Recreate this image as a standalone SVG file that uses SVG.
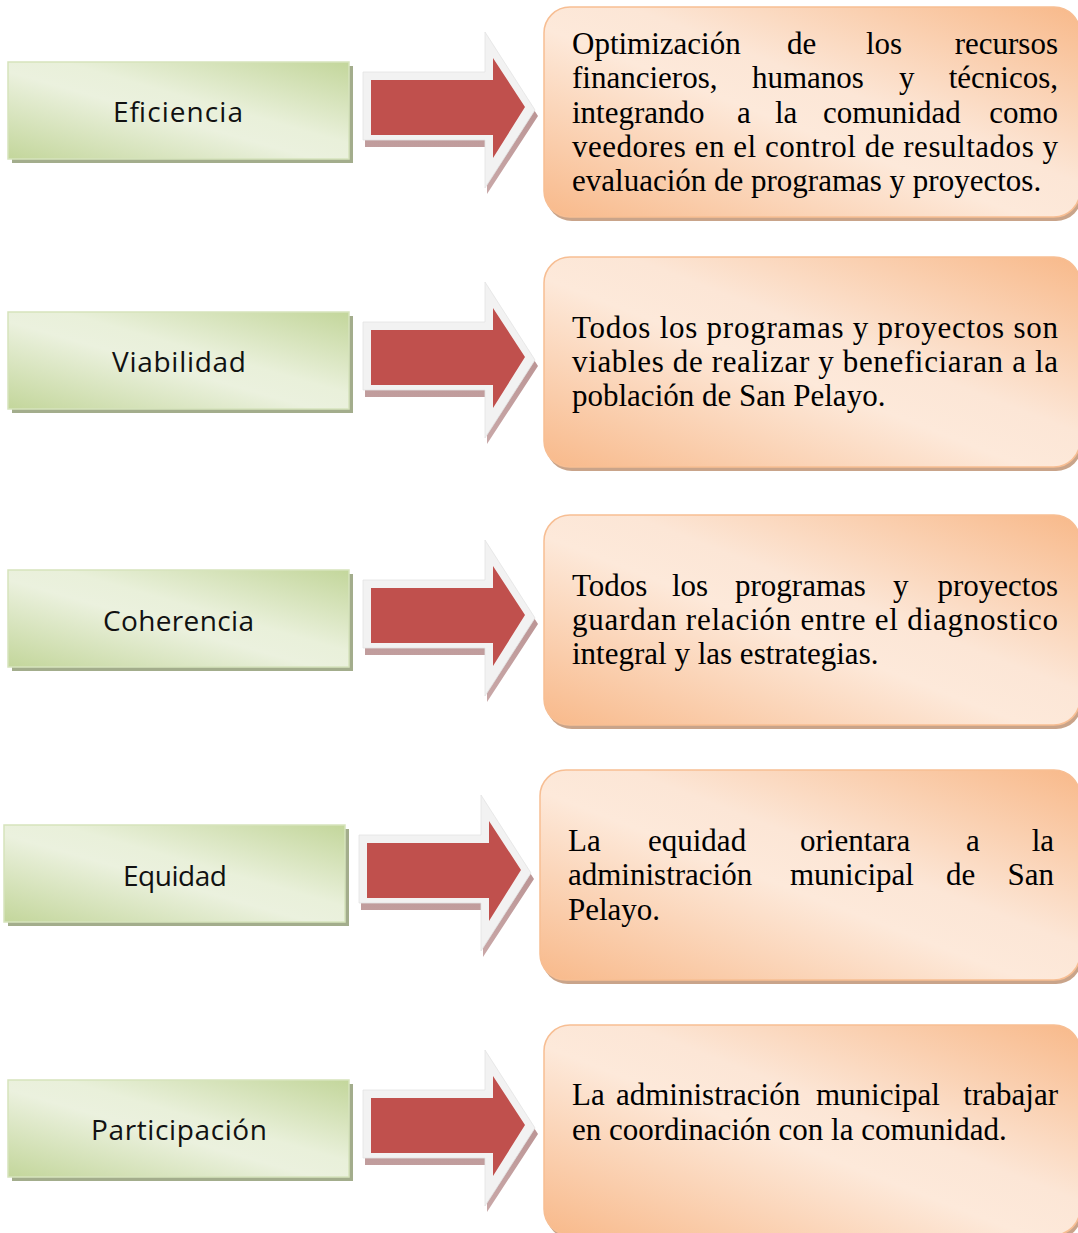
<svg xmlns="http://www.w3.org/2000/svg" width="1078" height="1233" viewBox="0 0 1078 1233">
<defs>
<linearGradient id="gGreen" x1="0" y1="1" x2="1" y2="0">
<stop offset="0" stop-color="#c3d69b"/>
<stop offset="0.45" stop-color="#ebf1de"/>
<stop offset="0.58" stop-color="#e9f0da"/>
<stop offset="1" stop-color="#c3d69b"/>
</linearGradient>
<linearGradient id="gOrange" x1="0" y1="1" x2="1" y2="0">
<stop offset="0" stop-color="#f8b98a"/>
<stop offset="0.45" stop-color="#fde9da"/>
<stop offset="0.58" stop-color="#fce6d6"/>
<stop offset="1" stop-color="#f8b98a"/>
</linearGradient>
<linearGradient id="gShadow" x1="0" y1="0" x2="0" y2="1">
<stop offset="0" stop-color="#b08585"/>
<stop offset="1" stop-color="#c9a8a8"/>
</linearGradient>
</defs>
<style>
.gshadow{fill:#a3ad8c}
.gbox{fill:url(#gGreen);stroke:#d6e3bc;stroke-width:1.5}
.glabel{font-family:"Open Sans","DejaVu Sans",sans-serif;font-size:28px;fill:#111}
.oshadow{fill:#c9a48a}
.obox{fill:url(#gOrange);stroke:#f7be93;stroke-width:1.5}
.otext{font-family:"Liberation Serif","Times New Roman",serif;font-size:31px;fill:#000}
.ashadow{fill:url(#gShadow)}
.aouter{fill:#f2f2f2;stroke:#e3e3e3;stroke-width:0.8}
.ared{fill:#c0504d}
</style>

<g id="connectors">
<g id="arrow1">
<polygon class="ashadow" points="365,78 487,78 487,38 538,116 487,194 487,147 365,147"/>
<polygon class="aouter" points="363,72 485,72 485,32 535,110 485,188 485,140 363,140"/>
<polygon class="ared" points="371,80 493,80 493,58 525,107 493,158 493,135 371,135"/>
</g>
<g id="arrow2" transform="translate(0,250)">
<polygon class="ashadow" points="365,78 487,78 487,38 538,116 487,194 487,147 365,147"/>
<polygon class="aouter" points="363,72 485,72 485,32 535,110 485,188 485,140 363,140"/>
<polygon class="ared" points="371,80 493,80 493,58 525,107 493,158 493,135 371,135"/>
</g>
<g id="arrow3" transform="translate(0,508)">
<polygon class="ashadow" points="365,78 487,78 487,38 538,116 487,194 487,147 365,147"/>
<polygon class="aouter" points="363,72 485,72 485,32 535,110 485,188 485,140 363,140"/>
<polygon class="ared" points="371,80 493,80 493,58 525,107 493,158 493,135 371,135"/>
</g>
<g id="arrow4" transform="translate(-4,763)">
<polygon class="ashadow" points="365,78 487,78 487,38 538,116 487,194 487,147 365,147"/>
<polygon class="aouter" points="363,72 485,72 485,32 535,110 485,188 485,140 363,140"/>
<polygon class="ared" points="371,80 493,80 493,58 525,107 493,158 493,135 371,135"/>
</g>
<g id="arrow5" transform="translate(0,1018)">
<polygon class="ashadow" points="365,78 487,78 487,38 538,116 487,194 487,147 365,147"/>
<polygon class="aouter" points="363,72 485,72 485,32 535,110 485,188 485,140 363,140"/>
<polygon class="ared" points="371,80 493,80 493,58 525,107 493,158 493,135 371,135"/>
</g>
</g>

<g id="node-eficiencia">
<rect class="gshadow" x="12" y="66" width="341" height="97"/>
<rect class="gbox" x="8" y="62" width="341" height="97"/>
<text class="glabel" x="113" y="122" textLength="130">Eficiencia</text>
</g>
<g id="node-viabilidad" transform="translate(0,250)">
<rect class="gshadow" x="12" y="66" width="341" height="97"/>
<rect class="gbox" x="8" y="62" width="341" height="97"/>
<text class="glabel" x="112" y="122" textLength="134">Viabilidad</text>
</g>
<g id="node-coherencia" transform="translate(0,508)">
<rect class="gshadow" x="12" y="66" width="341" height="97"/>
<rect class="gbox" x="8" y="62" width="341" height="97"/>
<text class="glabel" x="103" y="123" textLength="151">Coherencia</text>
</g>
<g id="node-equidad" transform="translate(-4,763)">
<rect class="gshadow" x="12" y="66" width="341" height="97"/>
<rect class="gbox" x="8" y="62" width="341" height="97"/>
<text class="glabel" x="127" y="123" textLength="104">Equidad</text>
</g>
<g id="node-participacion" transform="translate(0,1018)">
<rect class="gshadow" x="12" y="66" width="341" height="97"/>
<rect class="gbox" x="8" y="62" width="341" height="97"/>
<text class="glabel" x="91" y="122" textLength="176">Participación</text>
</g>

<g id="desc-eficiencia">
<rect class="oshadow" x="546" y="11" width="536" height="210" rx="26"/>
<rect class="obox" x="544" y="7" width="536" height="210" rx="26"/>
<text class="otext" y="54"><tspan x="572">Optimización</tspan><tspan x="787">de</tspan><tspan x="866">los</tspan><tspan x="1058" text-anchor="end">recursos</tspan></text>
<text class="otext" y="88"><tspan x="572">financieros,</tspan><tspan x="752">humanos</tspan><tspan x="899">y</tspan><tspan x="1058" text-anchor="end">técnicos,</tspan></text>
<text class="otext" y="122.5"><tspan x="572">integrando</tspan><tspan x="737">a</tspan><tspan x="775">la</tspan><tspan x="823">comunidad</tspan><tspan x="1058" text-anchor="end">como</tspan></text>
<text class="otext" x="572" y="157" textLength="486">veedores en el control de resultados y</text>
<text class="otext" x="572" y="191">evaluación de programas y proyectos.</text>
</g>
<g id="desc-viabilidad" transform="translate(0,250)">
<rect class="oshadow" x="546" y="11" width="536" height="210" rx="26"/>
<rect class="obox" x="544" y="7" width="536" height="210" rx="26"/>
<text class="otext" x="572" y="88" textLength="486">Todos los programas y proyectos son</text>
<text class="otext" x="572" y="122" textLength="486">viables de realizar y beneficiaran a la</text>
<text class="otext" x="572" y="156">población de San Pelayo.</text>
</g>
<g id="desc-coherencia" transform="translate(0,508)">
<rect class="oshadow" x="546" y="11" width="536" height="210" rx="26"/>
<rect class="obox" x="544" y="7" width="536" height="210" rx="26"/>
<text class="otext" y="88"><tspan x="572">Todos</tspan><tspan x="672">los</tspan><tspan x="735">programas</tspan><tspan x="893">y</tspan><tspan x="1058" text-anchor="end">proyectos</tspan></text>
<text class="otext" x="572" y="122" textLength="486">guardan relación entre el diagnostico</text>
<text class="otext" x="572" y="156">integral y las estrategias.</text>
</g>
<g id="desc-equidad" transform="translate(-4,763)">
<rect class="oshadow" x="546" y="11" width="540" height="210" rx="26"/>
<rect class="obox" x="544" y="7" width="540" height="210" rx="26"/>
<text class="otext" y="88"><tspan x="572">La</tspan><tspan x="652">equidad</tspan><tspan x="804">orientara</tspan><tspan x="970">a</tspan><tspan x="1058" text-anchor="end">la</tspan></text>
<text class="otext" y="122"><tspan x="572">administración</tspan><tspan x="794">municipal</tspan><tspan x="950">de</tspan><tspan x="1058" text-anchor="end">San</tspan></text>
<text class="otext" x="572" y="157">Pelayo.</text>
</g>
<g id="desc-participacion" transform="translate(0,1018)">
<rect class="oshadow" x="546" y="11" width="536" height="210" rx="26"/>
<rect class="obox" x="544" y="7" width="536" height="210" rx="26"/>
<text class="otext" y="87"><tspan x="572">La</tspan><tspan x="616">administración</tspan><tspan x="816">municipal</tspan><tspan x="1058" text-anchor="end">trabajar</tspan></text>
<text class="otext" x="572" y="122">en coordinación con la comunidad.</text>
</g>
</svg>
